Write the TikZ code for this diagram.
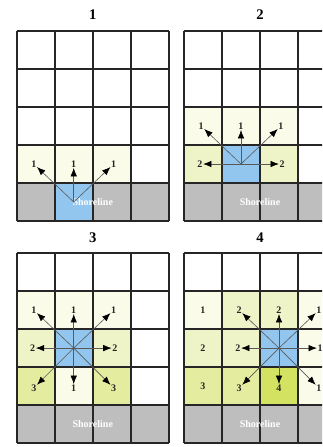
\documentclass[tikz,border=0pt]{standalone}
\usepackage{fontspec}
\setmainfont{Liberation Serif}
\usetikzlibrary{arrows.meta, positioning}

\definecolor{shoregray}{HTML}{BEBEBE}
\definecolor{srcblue}{HTML}{92C6EE}
\definecolor{lvone}{HTML}{FAFBE9}
\definecolor{lvtwo}{HTML}{EEF3C8}
\definecolor{lvthree}{HTML}{E4ECA0}
\definecolor{lvfour}{HTML}{D4E262}
\definecolor{gridline}{HTML}{262626}

\begin{document}
\begin{tikzpicture}[
		x=1cm, y=1cm,
		gridlines/.style={draw=gridline, line width=1.3pt},
		flow/.style={draw=black!65, line width=0.45pt,
			-{Latex[length=2.2mm, width=1.7mm, color=black]}},
		cellnum/.style={inner sep=0.3pt, font=\fontsize{7.5}{7.5}\selectfont\bfseries, text=black!85},
		shoretext/.style={inner sep=0pt, font=\fontsize{7.5}{8}\selectfont\bfseries, text=white},
		paneltitle/.style={inner sep=0pt, font=\fontsize{11}{11}\selectfont\bfseries}
	]
	\useasboundingbox (0,0) rectangle (8.474,-11.763);
	\clip (0,0) rectangle (8.474,-11.763);
	
	% -------- Panel 1 --------
	\begin{scope}[shift={(0.44,-5.816)}]
		\fill[shoregray] (0,0) rectangle (4,1);
		\fill[srcblue] (1,0) rectangle (2,1);
		\fill[lvone] (0,1) rectangle (3,2);
		\draw[gridlines] (0,0) grid (4,5);
		\node[paneltitle] (t1) at (2,5.42) {1};
		\node[shoretext] (s1) at (2,0.5) {Shoreline};
		\coordinate (c1) at (1.5,0.5);
		\node[cellnum] (a1ul) at (0.45,1.5) {1};
		\node[cellnum] (a1u) at (1.5,1.5) {1};
		\node[cellnum] (a1ur) at (2.55,1.5) {1};
		\draw[flow] (c1) -- (a1ul);
		\draw[flow] (c1) -- (a1u);
		\draw[flow] (c1) -- (a1ur);
	\end{scope}
	
	% -------- Panel 2 --------
	\begin{scope}[shift={(4.842,-5.816)}]
		\fill[shoregray] (0,0) rectangle (4,1);
		\fill[lvtwo] (0,1) rectangle (3,2);
		\fill[srcblue] (1,1) rectangle (2,2);
		\fill[lvone] (0,2) rectangle (3,3);
		\draw[gridlines] (0,0) grid (4,5);
		\node[paneltitle] (t2) at (2,5.42) {2};
		\node[shoretext] (s2) at (2,0.5) {Shoreline};
		\coordinate (c2) at (1.5,1.5);
		\node[cellnum] (a2ul) at (0.45,2.5) {1};
		\node[cellnum] (a2u) at (1.5,2.5) {1};
		\node[cellnum] (a2ur) at (2.55,2.5) {1};
		\node[cellnum] (a2l) at (0.42,1.5) {2};
		\node[cellnum] (a2r) at (2.58,1.5) {2};
		\draw[flow] (c2) -- (a2ul);
		\draw[flow] (c2) -- (a2u);
		\draw[flow] (c2) -- (a2ur);
		\draw[flow] (c2) -- (a2l);
		\draw[flow] (c2) -- (a2r);
	\end{scope}
	
	% -------- Panel 3 --------
	\begin{scope}[shift={(0.44,-11.66)}]
		\fill[shoregray] (0,0) rectangle (4,1);
		\fill[lvthree] (0,1) rectangle (3,2);
		\fill[lvone] (1,1) rectangle (2,2);
		\fill[lvtwo] (0,2) rectangle (3,3);
		\fill[srcblue] (1,2) rectangle (2,3);
		\fill[lvone] (0,3) rectangle (3,4);
		\draw[gridlines] (0,0) grid (4,5);
		\node[paneltitle] (t3) at (2,5.40) {3};
		\node[shoretext] (s3) at (2,0.5) {Shoreline};
		\coordinate (c3) at (1.5,2.5);
		\node[cellnum] (a3ul) at (0.45,3.5) {1};
		\node[cellnum] (a3u) at (1.5,3.5) {1};
		\node[cellnum] (a3ur) at (2.55,3.5) {1};
		\node[cellnum] (a3l) at (0.42,2.5) {2};
		\node[cellnum] (a3r) at (2.58,2.5) {2};
		\node[cellnum] (a3dl) at (0.45,1.45) {3};
		\node[cellnum] (a3d) at (1.5,1.45) {1};
		\node[cellnum] (a3dr) at (2.55,1.45) {3};
		\foreach \dir in {ul,u,ur,l,r,dl,d,dr}
			\draw[flow] (c3) -- (a3\dir);
	\end{scope}
	
	% -------- Panel 4 --------
	\begin{scope}[shift={(4.842,-11.66)}]
		\fill[shoregray] (0,0) rectangle (4,1);
		\fill[lvthree] (0,1) rectangle (2,2);
		\fill[lvfour] (2,1) rectangle (3,2);
		\fill[lvone] (3,1) rectangle (4,4);
		\fill[lvtwo] (0,2) rectangle (2,3);
		\fill[srcblue] (2,2) rectangle (3,3);
		\fill[lvtwo] (1,3) rectangle (3,4);
		\fill[lvone] (0,3) rectangle (1,4);
		\draw[gridlines] (0,0) grid (4,5);
		\node[paneltitle] (t4) at (2,5.40) {4};
		\node[shoretext] (s4) at (2,0.5) {Shoreline};
		% earlier values
		\node[cellnum] (v4a) at (0.5,3.5) {1};
		\node[cellnum] (v4b) at (0.5,2.5) {2};
		\node[cellnum] (v4c) at (0.5,1.5) {3};
		\coordinate (c4) at (2.5,2.5);
		\node[cellnum] (a4ul) at (1.45,3.5) {2};
		\node[cellnum] (a4u) at (2.5,3.5) {2};
		\node[cellnum] (a4ur) at (3.55,3.5) {1};
		\node[cellnum] (a4l) at (1.42,2.5) {2};
		\node[cellnum] (a4r) at (3.58,2.5) {1};
		\node[cellnum] (a4dl) at (1.45,1.45) {3};
		\node[cellnum] (a4d) at (2.5,1.45) {4};
		\node[cellnum] (a4dr) at (3.55,1.45) {1};
		\foreach \dir in {ul,u,ur,l,r,dl,d,dr}
			\draw[flow] (c4) -- (a4\dir);
	\end{scope}
	
\end{tikzpicture}
\end{document}
